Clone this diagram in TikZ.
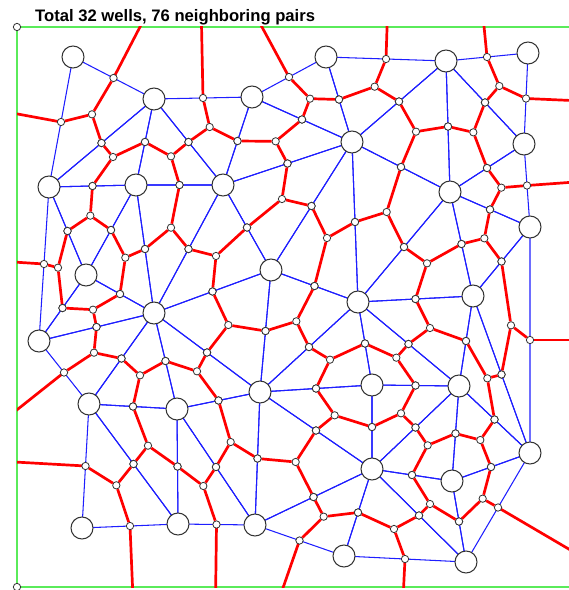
\documentclass[tikz,border=0pt]{standalone}
\usepackage{fontspec}
\setmainfont{Liberation Sans}
\usepackage{tikz}
\usetikzlibrary{calc}
\usepackage{xcolor}
\definecolor{pairblue}{RGB}{30,30,255}
\definecolor{cellred}{RGB}{255,0,0}
\definecolor{framegreen}{RGB}{90,235,90}
\definecolor{rim}{HTML}{333333}

\tikzset{
  well/.style={circle, draw=rim, fill=white, line width=0.9pt, minimum size=0.66cm, inner sep=0pt},
  vx/.style={circle, draw=rim, fill=white, line width=0.7pt, minimum size=0.22cm, inner sep=0pt},
  pair/.style={pairblue, line width=0.9pt},
  cell/.style={cellred, line width=2.3pt, line join=round},
}

\begin{document}
\begin{tikzpicture}[x=0.03cm,y=-0.03cm]
  \useasboundingbox (0,0) rectangle (569,590);
  \node[anchor=base west, font=\bfseries\fontsize{14.2}{16}\selectfont, inner sep=0pt] (title) at (35,22) {Total 32 wells, 76 neighboring pairs};
  % well positions
  \foreach \i/\x/\y in {1/73/57, 2/154/99, 3/252/97, 4/326/57, 5/446/61, 6/528/53,
      7/352/142, 8/524/144, 9/49/187, 10/136/185, 11/223/185, 12/450/192,
      13/530/227, 14/86/275, 15/271/270, 16/39/341, 17/154/313, 18/358/302,
      19/473/296, 20/89/404, 21/177/409, 22/260/392, 23/372/385, 24/459/386,
      25/530/453, 26/372/469, 27/452/481, 28/82/528, 29/178/524, 30/255/525,
      31/344/556, 32/466/562}
    \coordinate (p\i) at (\x,\y);
  \def\tris{1/2/9, 2/9/10, 2/10/11, 2/3/11, 3/7/11, 3/4/7, 4/5/7, 5/7/12, 5/8/12,
    5/6/8, 8/12/13, 12/13/19, 7/12/18, 12/18/19, 7/15/18, 7/11/15, 11/15/17,
    10/11/17, 9/10/14, 10/14/17, 9/14/16, 14/16/17, 16/17/20, 17/20/21,
    17/21/22, 15/17/22, 15/18/22, 18/22/23, 18/23/24, 18/19/24, 13/19/25,
    19/24/25, 22/23/26, 23/24/26, 24/26/27, 24/25/27, 25/27/32, 26/27/32,
    26/31/32, 26/30/31, 22/26/30, 21/22/30, 21/29/30, 20/21/29, 20/28/29}
  \def\hull{1/2, 2/3, 3/4, 4/5, 5/6, 6/8, 8/13, 13/25, 25/32, 32/31, 31/30,
    30/29, 29/28, 28/20, 20/16, 16/9, 9/1}
  % frame
  \draw[framegreen, line width=1.2pt] (572,27) -- (17,27) -- (17,587) -- (572,587);
  % neighboring pairs
  \foreach \a/\b/\c in \tris
    \draw[pair] (p\a) -- (p\b) -- (p\c) -- cycle;
  % open cells run out to the frame
  \begin{scope}
    \clip (17,27) rectangle (572,587);
    \foreach \a/\b in \hull {
      \coordinate (h) at ($(p\a)!.5!(p\b)$);
      \draw[cell] (h) -- ($(h)!6cm!90:(p\b)$);
    }
  \end{scope}
  % cell boundaries: centroid to edge midpoints
  \foreach \a/\b/\c in \tris {
    \node[vx] (g\a-\b-\c) at (barycentric cs:p\a=1,p\b=1,p\c=1) {};
    \node[vx] (m\a-\b) at ($(p\a)!.5!(p\b)$) {};
    \node[vx] (m\b-\c) at ($(p\b)!.5!(p\c)$) {};
    \node[vx] (m\a-\c) at ($(p\a)!.5!(p\c)$) {};
    \draw[cell] (g\a-\b-\c) -- (m\a-\b) (g\a-\b-\c) -- (m\b-\c) (g\a-\b-\c) -- (m\a-\c);
  }
  \node[vx] (c1) at (17,27) {};
  \node[vx] (c2) at (17,587) {};
  \foreach \i in {1,...,32}
    \node[well] (w\i) at (p\i) {};
\end{tikzpicture}
\end{document}
